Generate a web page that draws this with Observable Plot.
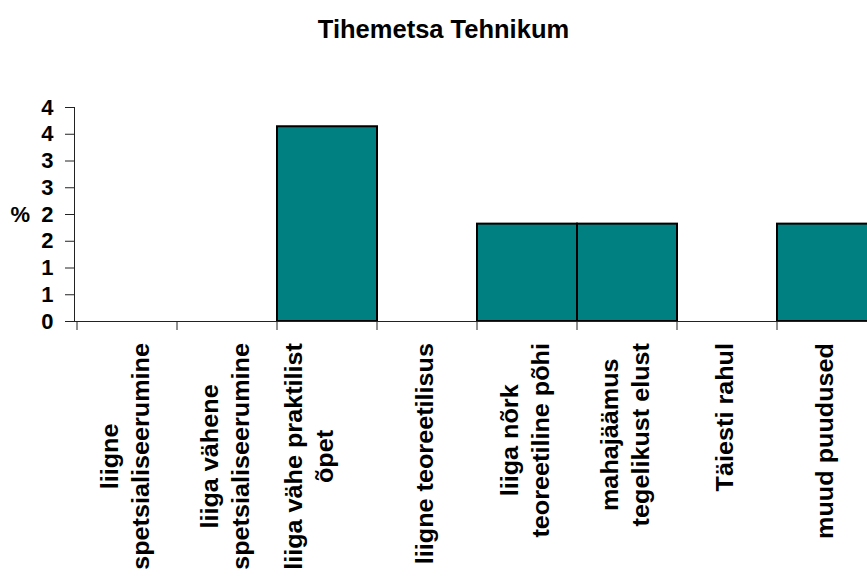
<!DOCTYPE html>
<html>
<head>
<meta charset="utf-8">
<script src="https://cdn.jsdelivr.net/npm/d3@7"></script>
<script src="https://cdn.jsdelivr.net/npm/@observablehq/plot@0.6"></script>
<style>
  html, body { margin: 0; padding: 0; background: #fff; overflow: hidden; }
</style>
</head>
<body>
<div id="chart"></div>
<script>
const title = "Tihemetsa Tehnikum";
const yLabel = "%";
const categories = [
  "liigne spetsialiseerumine",
  "liiga vähene spetsialiseerumine",
  "liiga vähe praktilist õpet",
  "liigne teoreetilisus",
  "liiga nõrk teoreetiline põhi",
  "mahajäämus tegelikust elust",
  "Täiesti rahul",
  "muud puudused"
];
const categoryLines = [
  ["liigne", "spetsialiseerumine"],
  ["liiga vähene", "spetsialiseerumine"],
  ["liiga vähe praktilist", "õpet", ""],
  ["liigne teoreetilisus"],
  ["liiga nõrk", "teoreetiline põhi"],
  ["mahajäämus", "tegelikust elust"],
  ["Täiesti rahul"],
  ["muud puudused"]
];
const values = [0, 0, 3.64, 0, 1.82, 1.82, 0, 1.82];
const yTicks = [0, 0.5, 1, 1.5, 2, 2.5, 3, 3.5, 4];
const yDomain = [0, 4];

const FONT = "'Liberation Sans', Arial, Helvetica, sans-serif";
const barColor = "#008080";
const labelSize = 24, labelStretch = 1.05, linePitch = 31;
const titleSize = 25.5;
const tickSize = 22;

const data = categories.map((c, i) => ({category: c, value: values[i]}));

function decorations(index, scales, values_, dims) {
  const x = scales.x, y = scales.y;
  const bw = x.bandwidth();
  const y0 = y(0);
  const g = d3.create("svg:g")
    .attr("font-family", FONT)
    .attr("font-weight", "bold")
    .attr("fill", "black");
  // x tick marks at category boundaries
  const edges = categories.map(c => x(c)).concat([x(categories[categories.length - 1]) + bw]);
  g.append("g").attr("stroke", "#222").attr("stroke-width", 1)
    .selectAll("line").data(edges).join("line")
    .attr("x1", d => d).attr("x2", d => d)
    .attr("y1", y0).attr("y2", y0 + 9);
  // category labels, rotated, centered lines, longest line ending under the axis
  const ctx = document.createElement("canvas").getContext("2d");
  ctx.font = `bold ${labelSize}px ${FONT}`;
  categoryLines.forEach((lines, i) => {
    const L = d3.max(lines, s => ctx.measureText(s).width) * labelStretch;
    const cx = x(categories[i]) + bw / 2;
    const cy = y0 + 22 + L / 2;
    const t = g.append("text")
      .attr("text-anchor", "middle")
      .attr("font-size", labelSize)
      .attr("transform", `translate(${cx},${cy}) rotate(-90) scale(${labelStretch},1)`);
    lines.forEach((s, j) => {
      t.append("tspan")
        .attr("x", 0)
        .attr("y", (j - (lines.length - 1) / 2) * linePitch + 0.26 * labelSize)
        .text(s);
    });
  });
  // title
  g.append("text")
    .attr("text-anchor", "middle")
    .attr("font-size", titleSize)
    .attr("x", dims.width / 2 + 10)
    .attr("y", 38)
    .text(title);
  // y label
  g.append("text")
    .attr("text-anchor", "end")
    .attr("font-size", tickSize)
    .attr("dy", "0.35em")
    .attr("x", dims.marginLeft - 44)
    .attr("y", (y(yDomain[0]) + y(yDomain[1])) / 2)
    .text(yLabel);
  return g.node();
}

const chart = Plot.plot({
  width: 867,
  height: 576,
  marginTop: 107,
  marginBottom: 255,
  marginLeft: 74,
  marginRight: -12,
  style: {fontFamily: FONT, background: "#fff", color: "black"},
  x: {domain: categories, padding: 0, axis: null},
  y: {domain: yDomain},
  marks: [
    Plot.barY(data, {
      x: "category",
      y: "value",
      filter: d => d.value > 0,
      fill: barColor,
      stroke: "black",
      strokeWidth: 2,
      inset: 0
    }),
    Plot.ruleY([0], {stroke: "#222", strokeWidth: 1}),
    Plot.frame({anchor: "left", stroke: "#222", strokeWidth: 1}),
    Plot.axisY(yTicks, {
      tickSize: 9,
      tickPadding: 12,
      tickFormat: d => String(Math.round(d)),
      fontSize: tickSize,
      fontWeight: "bold",
      label: null,
      stroke: "#222"
    }),
    decorations
  ]
});

document.getElementById("chart").appendChild(chart);
</script>
</body>
</html>
